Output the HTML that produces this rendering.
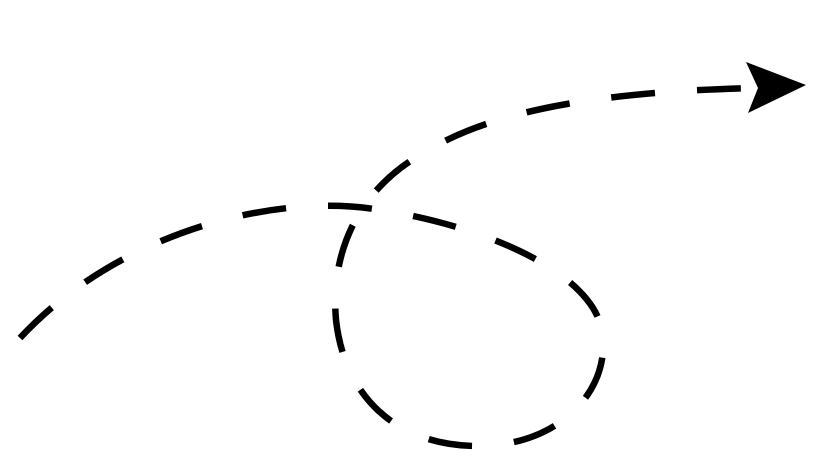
<!DOCTYPE html>
<html><head><style>html,body{margin:0;padding:0;background:#fff;}svg{display:block}</style></head>
<body>
<svg width="820" height="471" viewBox="0 0 820 471" xmlns="http://www.w3.org/2000/svg">
<path d="M20,338 C120,230 280,192 380,210 C480,225 590,270 602,330 C612,390 560,445 480,446 C400,447 345,400 336,320 C330,250 360,190 420,155 C490,110 600,92 752,88" fill="none" stroke="#000" stroke-width="6.5" stroke-dasharray="44,42"/>
<polygon points="806,85 746,62 758,88 748,113" fill="#000"/>
</svg>
</body></html>
